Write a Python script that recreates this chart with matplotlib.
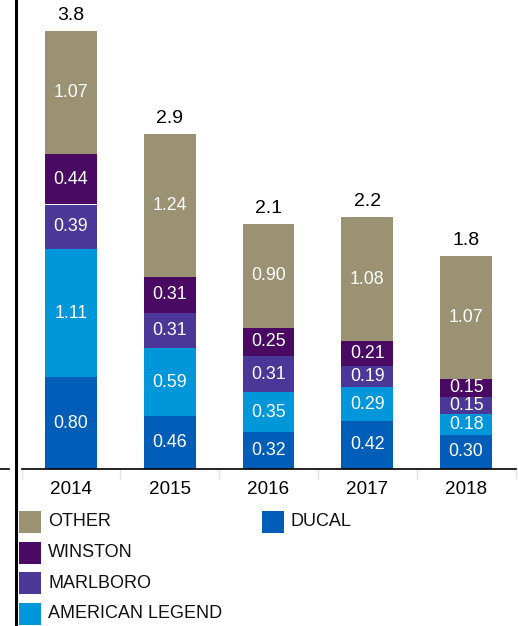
import matplotlib
matplotlib.use("Agg")
import matplotlib.pyplot as plt
from matplotlib.lines import Line2D
from matplotlib.patches import Rectangle
import numpy as np

plt.rcParams['font.family'] = ['Liberation Sans', 'DejaVu Sans']

# Datos por marca (valores de cada segmento)
years = ['2014', '2015', '2016', '2017', '2018']
ducal = [0.80, 0.46, 0.32, 0.42, 0.30]
american_legend = [1.11, 0.59, 0.35, 0.29, 0.18]
marlboro = [0.39, 0.31, 0.31, 0.19, 0.15]
winston = [0.44, 0.31, 0.25, 0.21, 0.15]
other = [1.07, 1.24, 0.90, 1.08, 1.07]
totals = [3.8, 2.9, 2.1, 2.2, 1.8]

series = [ducal, american_legend, marlboro, winston, other]
names = ['DUCAL', 'AMERICAN LEGEND', 'MARLBORO', 'WINSTON', 'OTHER']
colors = ['#005EB8', '#0096DA', '#4A3798', '#4A0A64', '#9B9173']

W, H = 518, 626
fig = plt.figure(figsize=(W / 100, H / 100), dpi=100)
ax = fig.add_axes([21.5 / W, (H - 469) / H, 494 / W, 469 / H])

x = np.arange(len(years))
bottom = np.zeros(len(years))
for vals, c in zip(series, colors):
    ax.bar(x, vals, width=0.525, bottom=bottom, color=c, linewidth=0)
    for xi, b, v in zip(x, bottom, vals):
        ax.text(xi, b + v / 2, f'{v:.2f}', ha='center', va='center',
                color='white', fontsize=12.8)
    bottom += np.array(vals)

for xi, top, t in zip(x, bottom, totals):
    ax.text(xi, top + 0.06, f'{t:.1f}', ha='center', va='bottom',
            color='black', fontsize=14)

ax.set_xlim(-0.5, 4.5)
ax.set_ylim(0, 469 / 115)
for s in ['top', 'right', 'left']:
    ax.spines[s].set_visible(False)
ax.spines['bottom'].set_linewidth(1.2)
ax.spines['bottom'].set_color('black')
ax.set_yticks([])
ax.set_xticks(x)
ax.set_xticklabels(years, fontsize=13.6)
ax.tick_params(axis='x', which='major', length=0, pad=9)
ax.set_xticks(np.arange(-0.5, 5, 1), minor=True)
ax.tick_params(axis='x', which='minor', length=7, color='#e4e4e4', width=1)

# linea vertical a la izquierda y tramo corto del eje
fig.add_artist(Line2D([15.5 / W, 15.5 / W], [0, 1], color='black', linewidth=2.2))
fig.add_artist(Line2D([0, 9 / W], [(H - 469) / H] * 2, color='black', linewidth=1.2))

# leyenda
legend_items = [('OTHER', 19, 521.5), ('WINSTON', 19, 552.5), ('MARLBORO', 19, 583),
                ('AMERICAN LEGEND', 19, 613.5), ('DUCAL', 262, 521.5)]
for name, lx, ly in legend_items:
    c = colors[names.index(name)]
    fig.add_artist(Rectangle((lx / W, (H - ly - 11) / H), 22 / W, 22 / H,
                             transform=fig.transFigure, color=c, linewidth=0))
    fig.text((lx + 29) / W, (H - ly) / H, name, ha='left', va='center',
             fontsize=13, color='#111111')

fig.savefig('out.png', dpi=100)
